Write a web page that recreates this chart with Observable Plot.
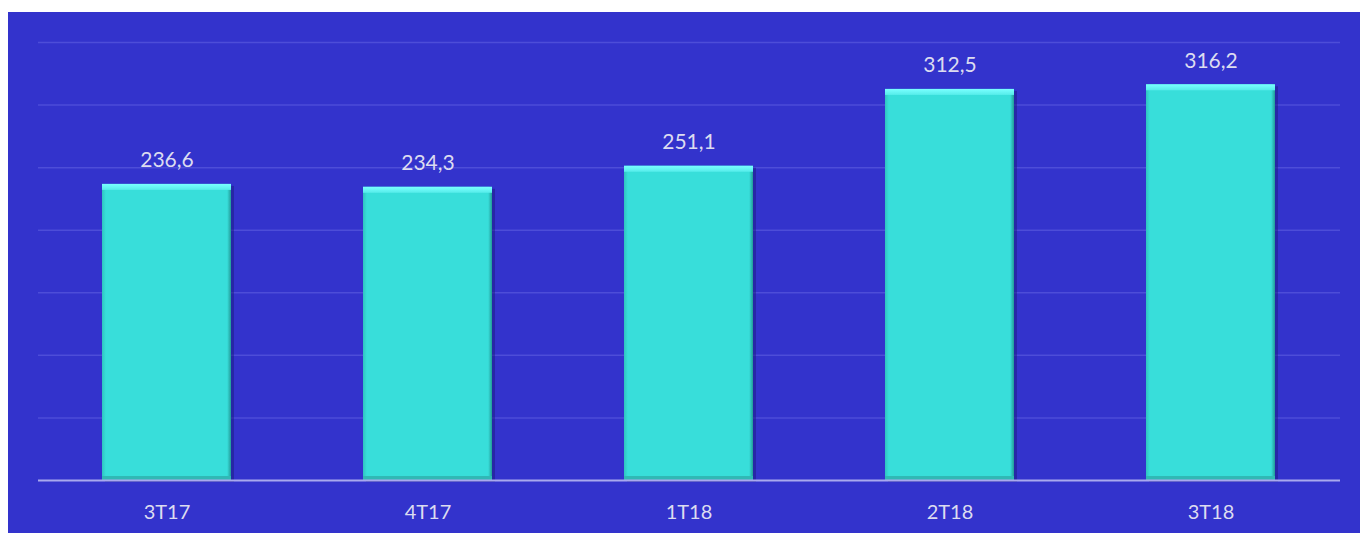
<!DOCTYPE html>
<html><head><meta charset="utf-8">
<script src="https://cdn.jsdelivr.net/npm/d3@7"></script>
<script src="https://cdn.jsdelivr.net/npm/@observablehq/plot@0.6"></script>
<style>
html,body{margin:0;padding:0;background:#fff;}
#wrap{position:absolute;left:8px;top:12px;width:1352px;height:521px;background:#3333cc;}
</style></head>
<body><div id="wrap"></div>
<script>
const categories = ["3T17","4T17","1T18","2T18","3T18"];
const values = [236.6, 234.3, 251.1, 312.5, 316.2];
const labels = ["236,6","234,3","251,1","312,5","316,2"];
const data = categories.map((c,i)=>({cat:c, value:values[i], label:labels[i]}));

const font = "Lato, 'Open Sans', sans-serif";
const plot = Plot.plot({
  width: 1352, height: 521,
  marginLeft: 30, marginRight: 20, marginTop: 30, marginBottom: 53,
  style: {background: "transparent", fontFamily: font},
  x: {domain: categories, paddingInner: 0.505, paddingOuter: 0.246, align: 0.497, label: null},
  y: {domain: [0, 350], label: null},
  marks: [
    Plot.gridY([50,100,150,200,250,300,350], {stroke: "#4d4dd8", strokeOpacity: 1, strokeWidth: 1.5}),
    Plot.axisX({tickSize: 0, tickPadding: 24, fontSize: 20, fill: "#dcdcf0", fontFamily: font}),
    Plot.axisY({ticks: [], label: null}),
    Plot.barY(data, {x: "cat", y: "value", fill: "#1c1c80", fillOpacity: 0.5, dx: 3, dy: 2}),
    Plot.barY(data, {x: "cat", y: "value", fill: "url(#bodyGrad)"}),
    Plot.barY(data, {x: "cat", y1: "value", y2: "value", insetBottom: -6, fill: "url(#topGrad)"}),
    Plot.barY(data, {x: "cat", y1: 0, y2: 0, insetTop: -4, fill: "#30b8b5"}),
    Plot.ruleY([0], {stroke: "#a9a9ee", strokeWidth: 2}),
    Plot.text(data, {x: "cat", y: "value", text: "label", dy: -24, fontSize: 21, fill: "#dcdcf0", fontFamily: font})
  ]
});
const defs = d3.select(plot).insert("defs", ":first-child");
const bg = defs.append("linearGradient").attr("id","bodyGrad").attr("x1","0").attr("x2","1").attr("y1","0").attr("y2","0");
bg.append("stop").attr("offset","0").attr("stop-color","#2fc4c0");
bg.append("stop").attr("offset","0.03").attr("stop-color","#38deda");
bg.append("stop").attr("offset","0.97").attr("stop-color","#38deda");
bg.append("stop").attr("offset","1").attr("stop-color","#239a98");
const tg = defs.append("linearGradient").attr("id","topGrad").attr("x1","0").attr("x2","0").attr("y1","0").attr("y2","1");
tg.append("stop").attr("offset","0").attr("stop-color","#7affff");
tg.append("stop").attr("offset","1").attr("stop-color","#55ecea");
document.getElementById("wrap").appendChild(plot);
</script></body></html>
